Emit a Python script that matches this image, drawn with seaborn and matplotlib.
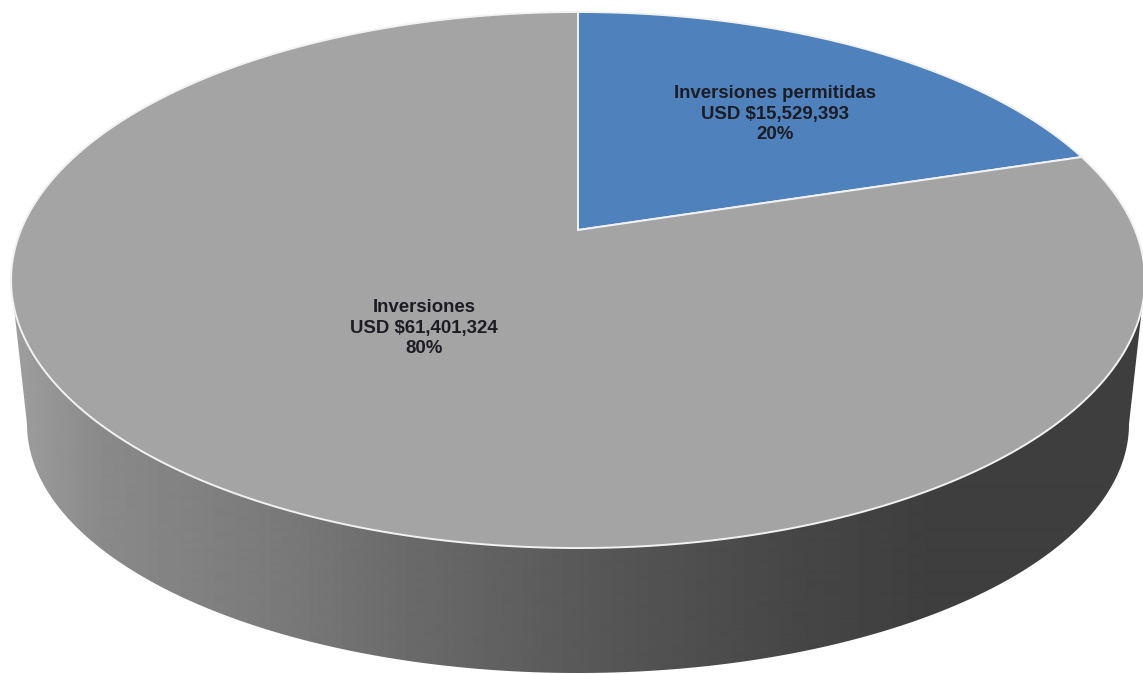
import matplotlib
matplotlib.use('Agg')
import matplotlib.pyplot as plt
from matplotlib.patches import Polygon
from matplotlib.transforms import Affine2D
import numpy as np
import seaborn as sns

# Values
categories = ['Inversiones permitidas', 'Inversiones']
amounts = [15529393, 61401324]
percents = [20, 80]

sns.set_theme(style='white')
plt.rcParams['font.family'] = ['Liberation Sans', 'DejaVu Sans']
palette = sns.color_palette(['#4f81bd', '#a4a4a4'])


def project(xy):
    # tilt the flat pie: perspective from unit circle to image pixels
    u, v = xy[:, 0], xy[:, 1]
    d = 1 + 0.1866 * v
    return np.column_stack([578 + 557 * u / d, (230 - 215.76 * v) / d])


fig = plt.figure(figsize=(11.43, 6.74), dpi=100)
ax = fig.add_axes([0, 0, 1, 1])

wedges, _ = ax.pie(amounts, colors=palette, startangle=90, counterclock=False)
ax.set_aspect('auto')
ax.set_xlim(0, 1143)
ax.set_ylim(674, 0)
ax.axis('off')

# Side wall of the disc: top outline plus lower outline of the base
t = np.linspace(0, 2 * np.pi, 721)
top = project(np.column_stack([np.cos(t), np.sin(t)]))
right = top[:, 0].argmax()
left = top[:, 0].argmin()
upper = np.roll(top[:-1], -right, axis=0)
upper = upper[:(left - right) % 720 + 1]
s = np.linspace(0, np.pi, 361)
base = np.column_stack([578 - 551 * np.cos(s), 424 + 249 * np.sin(s)])
wall_outline = np.vstack([upper, base])

grad_x = np.arange(1143)
grad = np.interp(grad_x, [15, 100, 300, 400, 600, 800, 930, 1143],
                 [0.62, 0.54, 0.47, 0.42, 0.34, 0.275, 0.245, 0.245])
img = ax.imshow(grad[np.newaxis, :], cmap='gray', vmin=0, vmax=1, aspect='auto',
                extent=[0, 1143, 674, 0], zorder=1, interpolation='bilinear')
clip = Polygon(wall_outline, closed=True, transform=ax.transData)
img.set_clip_path(clip)

# Put the pie wedges on top with the perspective applied
to_big = Affine2D().scale(1000)
for wedge, color in zip(wedges, palette):
    pts = wedge.get_path().to_polygons(transform=to_big)[0] / 1000
    wedge.set_visible(False)
    ax.add_patch(Polygon(project(pts), closed=True, facecolor=color,
                         edgecolor='#f2f2f2', linewidth=1.4, zorder=2))

label_pos = [(775, 114), (424, 328)]
for name, amount, pct, (lx, ly) in zip(categories, amounts, percents, label_pos):
    ax.text(lx, ly, f'{name}\nUSD ${amount:,}\n{pct}%', ha='center', va='center',
            fontsize=13.4, fontweight='bold', color='#1c1c24', linespacing=1.29,
            zorder=3)

fig.savefig('out.png', dpi=100)
